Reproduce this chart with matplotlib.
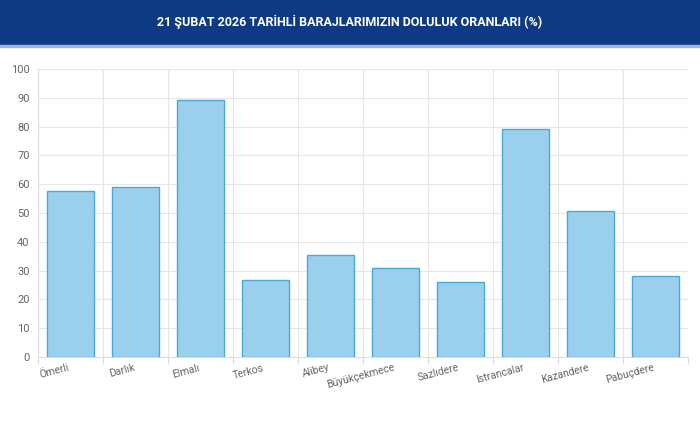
import matplotlib.pyplot as plt

plt.rcParams['font.family'] = ['Roboto', 'DejaVu Sans']

dams = ['Ömerli', 'Darlık', 'Elmalı', 'Terkos', 'Alibey', 'Büyükçekmece',
        'Sazlıdere', 'Istrancalar', 'Kazandere', 'Pabuçdere']
levels = [57.5, 59.0, 89.1, 26.9, 35.5, 30.9, 26.1, 79.1, 50.8, 28.1]
title = '21 ŞUBAT 2026 TARİHLİ BARAJLARIMIZIN DOLULUK ORANLARI (%)'

fig = plt.figure(figsize=(7, 4.29), dpi=100)
fig.patches.append(plt.Rectangle((0, 1 - 45 / 429), 1, 45 / 429, transform=fig.transFigure,
                                 color='#0e3a84', zorder=0))
fig.patches.append(plt.Rectangle((0, 1 - 47 / 429), 1, 2 / 429, transform=fig.transFigure,
                                 color='#9fb6df', zorder=0))
fig.text(0.5, 1 - 22 / 429, title, color='white', ha='center', va='center',
         fontsize=9, fontweight='bold')

ax = fig.add_axes([38 / 700, 1 - 357 / 429, 650 / 700, 288 / 429])
x = range(len(dams))
ax.bar(x, levels, width=0.72, color='#9bd0ec', edgecolor='#4aa8de', linewidth=1, zorder=3)
ax.set_xlim(-0.5, len(dams) - 0.5)
ax.set_ylim(0, 100)
ax.set_yticks(range(0, 101, 10))
ax.set_xticks([i - 0.5 for i in range(len(dams) + 1)], minor=False)
ax.set_xticklabels([])
ax.set_xticks(list(x), minor=True)
ax.set_xticklabels(dams, minor=True, rotation=15, ha='right', fontsize=7.5, color='#666666')
ax.tick_params(axis='x', which='minor', length=0, pad=4)
ax.tick_params(axis='x', which='major', length=5, color='#dddddd')
ax.tick_params(axis='y', length=0, labelsize=8, labelcolor='#666666', pad=6)
ax.grid(True, which='major', color='#e6e6e6', linewidth=0.8, zorder=0)
for s in ['top', 'right']:
    ax.spines[s].set_visible(False)
for s in ['left', 'bottom']:
    ax.spines[s].set_color('#dddddd')

fig.savefig('out.png', dpi=100)
